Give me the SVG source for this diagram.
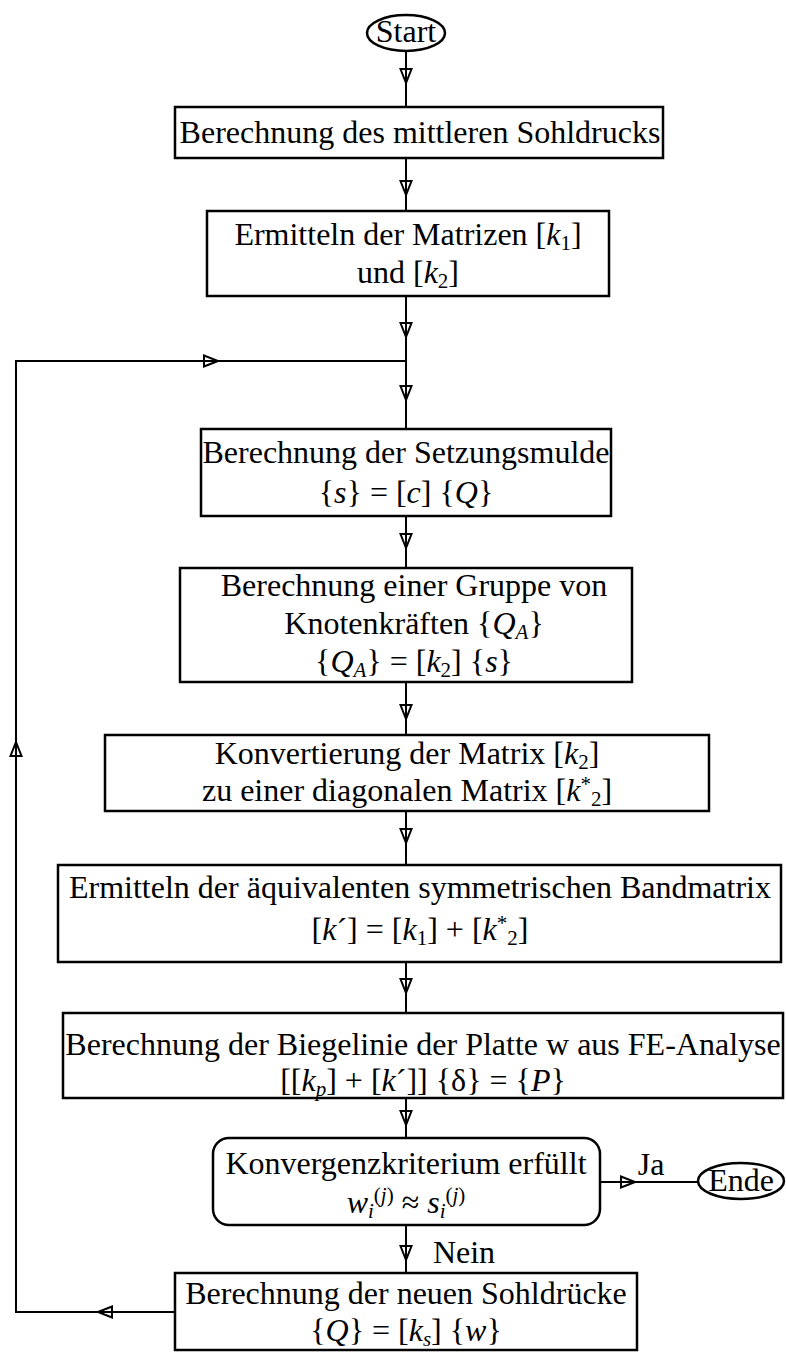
<svg xmlns="http://www.w3.org/2000/svg" xmlns:xlink="http://www.w3.org/1999/xlink" width="786" height="1352" viewBox="0 0 786 1352">
<style>
text{font-family:"Liberation Serif","Times New Roman",serif;font-size:32px;fill:#000;text-anchor:middle}
.i{font-style:italic}
.s{font-size:21px}
.box{fill:#fff;stroke:#000;stroke-width:2.5}
.ln{fill:none;stroke:#000;stroke-width:2}
</style>
<defs>
<path id="ah" d="M0,0 L-5.5,-14 L5.5,-14 Z" fill="none" stroke="#000" stroke-width="2" stroke-linejoin="miter"/>
</defs>
<rect width="786" height="1352" fill="#fff"/>
<g id="connectors">
<path class="ln" d="M406,51 V107 M406,158 V211 M406,296 V429 M406,516 V568 M406,682 V735 M406,811 V865 M406,962 V1013 M406,1098 V1138 M406,1225 V1273"/>
<path class="ln" d="M175,1312 H16 V361 H406"/>
<path class="ln" d="M600,1182 H698"/>
<use xlink:href="#ah" transform="translate(406,83)"/>
<use xlink:href="#ah" transform="translate(406,195)"/>
<use xlink:href="#ah" transform="translate(406,337)"/>
<use xlink:href="#ah" transform="translate(406,400)"/>
<use xlink:href="#ah" transform="translate(406,548)"/>
<use xlink:href="#ah" transform="translate(406,719)"/>
<use xlink:href="#ah" transform="translate(406,843)"/>
<use xlink:href="#ah" transform="translate(406,993)"/>
<use xlink:href="#ah" transform="translate(406,1125)"/>
<use xlink:href="#ah" transform="translate(406,1260)"/>
<use xlink:href="#ah" transform="translate(635,1182) rotate(-90)"/>
<use xlink:href="#ah" transform="translate(218,361) rotate(-90)"/>
<use xlink:href="#ah" transform="translate(98,1312) rotate(90)"/>
<use xlink:href="#ah" transform="translate(16,742) rotate(180)"/>
<text x="651" y="1175">Ja</text>
<text x="464" y="1263">Nein</text>
</g>
<g id="start">
<ellipse cx="406" cy="33" rx="39" ry="18" class="box"/>
<text x="406" y="42">Start</text>
</g>
<g id="box1">
<rect x="175" y="107" width="488" height="51" class="box"/>
<text x="420" y="143">Berechnung des mittleren Sohldrucks</text>
</g>
<g id="box2">
<rect x="207" y="211" width="402" height="85" class="box"/>
<text x="408" y="245">Ermitteln der Matrizen [<tspan class="i">k</tspan><tspan class="s" dy="5">1</tspan><tspan dy="-5">]</tspan></text>
<text x="408" y="283">und [<tspan class="i">k</tspan><tspan class="s" dy="5">2</tspan><tspan dy="-5">]</tspan></text>
</g>
<g id="box3">
<rect x="201" y="429" width="410" height="87" class="box"/>
<text x="406" y="463">Berechnung der Setzungsmulde</text>
<text x="406" y="503">{<tspan class="i">s</tspan>} = [<tspan class="i">c</tspan>] {<tspan class="i">Q</tspan>}</text>
</g>
<g id="box4">
<rect x="180" y="568" width="452" height="114" class="box"/>
<text x="414" y="596">Berechnung einer Gruppe von</text>
<text x="414" y="634">Knotenkräften {<tspan class="i">Q</tspan><tspan class="i s" dy="5">A</tspan><tspan dy="-5">}</tspan></text>
<text x="414" y="672">{<tspan class="i">Q</tspan><tspan class="i s" dy="5">A</tspan><tspan dy="-5">} = [</tspan><tspan class="i">k</tspan><tspan class="s" dy="5">2</tspan><tspan dy="-5">] {</tspan><tspan class="i">s</tspan>}</text>
</g>
<g id="box5">
<rect x="105" y="735" width="604" height="76" class="box"/>
<text x="407" y="764">Konvertierung der Matrix [<tspan class="i">k</tspan><tspan class="s" dy="5">2</tspan><tspan dy="-5">]</tspan></text>
<text x="407" y="801">zu einer diagonalen Matrix [<tspan class="i">k</tspan><tspan class="s" dy="-10">*</tspan><tspan class="s" dy="15">2</tspan><tspan dy="-5">]</tspan></text>
</g>
<g id="box6">
<rect x="58" y="865" width="723" height="97" class="box"/>
<text x="420" y="898">Ermitteln der äquivalenten symmetrischen Bandmatrix</text>
<text x="420" y="940">[<tspan class="i">k</tspan>´] = [<tspan class="i">k</tspan><tspan class="s" dy="5">1</tspan><tspan dy="-5">] + [</tspan><tspan class="i">k</tspan><tspan class="s" dy="-10">*</tspan><tspan class="s" dy="15">2</tspan><tspan dy="-5">]</tspan></text>
</g>
<g id="box7">
<rect x="63" y="1013" width="720" height="85" class="box"/>
<text x="423" y="1055">Berechnung der Biegelinie der Platte w aus FE-Analyse</text>
<text x="423" y="1091">[[<tspan class="i">k</tspan><tspan class="i s" dy="5">p</tspan><tspan dy="-5">] + [</tspan><tspan class="i">k</tspan>´]] {δ} = {<tspan class="i">P</tspan>}</text>
</g>
<g id="conv">
<rect x="213" y="1138" width="387" height="87" rx="16" ry="16" class="box"/>
<text x="406" y="1174">Konvergenzkriterium erfüllt</text>
<text x="406" y="1213"><tspan class="i">w</tspan><tspan class="i s" dy="5">i</tspan><tspan class="s" dy="-16">(</tspan><tspan class="i s">j</tspan><tspan class="s">)</tspan><tspan dy="11"> ≈ </tspan><tspan class="i">s</tspan><tspan class="i s" dy="5">i</tspan><tspan class="s" dy="-16">(</tspan><tspan class="i s">j</tspan><tspan class="s">)</tspan></text>
</g>
<g id="ende">
<ellipse cx="741" cy="1181" rx="43" ry="18" class="box"/>
<text x="741" y="1191">Ende</text>
</g>
<g id="box8">
<rect x="175" y="1273" width="462" height="77" class="box"/>
<text x="406" y="1304">Berechnung der neuen Sohldrücke</text>
<text x="406" y="1341">{<tspan class="i">Q</tspan>} = [<tspan class="i">k</tspan><tspan class="i s" dy="5">s</tspan><tspan dy="-5">] {</tspan><tspan class="i">w</tspan>}</text>
</g>
</svg>
